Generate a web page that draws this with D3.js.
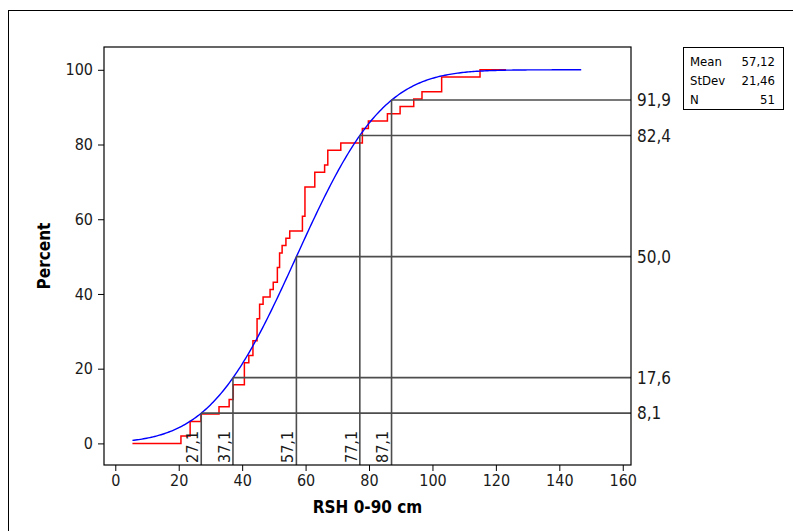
<!DOCTYPE html>
<html>
<head>
<meta charset="utf-8">
<script src="https://cdn.jsdelivr.net/npm/d3@7"></script>
<style>
  body { margin: 0; background: #fff; }
  svg { display: block; font-family: "DejaVu Sans Condensed", "DejaVu Sans", sans-serif; }
</style>
</head>
<body>
<div id="chart"></div>
<script>
var rshValues = [20.7, 23.6, 23.6, 27.0, 32.7, 35.9, 37.2, 37.2, 40.7, 40.7,
  40.7, 42.1, 43.4, 43.4, 44.7, 44.7, 44.7, 45.5, 45.5, 46.6,
  48.8, 49.8, 51.1, 51.1, 51.8, 51.8, 52.6, 53.8, 55.0, 59.0,
  59.0, 59.8, 59.8, 59.8, 59.8, 62.9, 62.9, 66.0, 67.0, 67.0,
  71.1, 77.9, 77.9, 79.8, 85.8, 89.8, 94.1, 96.7, 102.9, 102.9,
  115.0];
var xRange = [5.4, 123.2];      // red step drawn over this span
var fitRange = [5.4, 147.1];    // blue fitted curve drawn over this span
var fitMean = 57.12;
var fitSd = 21.46;
var statLabels = ["Mean", "StDev", "N"];
var statValues = ["57,12", "21,46", "51"];
var refX = [27.1, 37.1, 57.1, 77.1, 87.1];
var refY = [8.1, 17.6, 50.0, 82.4, 91.9];
var xTicks = [0, 20, 40, 60, 80, 100, 120, 140, 160];
var yTicks = [0, 20, 40, 60, 80, 100];

var width = 793, height = 531;
var pLeft = 104, pRight = 631, pTop = 47, pBottom = 465;

var svg = d3.select('#chart')
    .append('svg')
    .attr('width', width)
    .attr('height', height);

// outer frame
svg.append('rect')
    .attr('x', 8.5).attr('y', 10.5)
    .attr('width', 820).attr('height', 600)
    .attr('fill', 'none')
    .attr('stroke', '#000');

var x = d3.scaleLinear().domain([-3.56, 162.6]).range([pLeft, pRight]);
var y = d3.scaleLinear().domain([-5.78, 106.1]).range([pBottom, pTop]);

// normal cdf for the fitted line
function erf(z) {
  var t = 1 / (1 + 0.3275911 * Math.abs(z));
  var p = t * (0.254829592 + t * (-0.284496736 + t * (1.421413741 + t * (-1.453152027 + t * 1.061405429))));
  var r = 1 - p * Math.exp(-z * z);
  return z >= 0 ? r : -r;
}
function normCdf(v) {
  return 50 * (1 + erf((v - fitMean) / (fitSd * Math.SQRT2)));
}

// axes
var xAxis = svg.append('g')
    .attr('transform', `translate(0, ${pBottom})`)
    .call(d3.axisBottom(x).tickValues(xTicks).tickSize(6).tickPadding(4).tickSizeOuter(0));
var yAxis = svg.append('g')
    .attr('transform', `translate(${pLeft}, 0)`)
    .call(d3.axisLeft(y).tickValues(yTicks).tickSize(6).tickPadding(5).tickSizeOuter(0));

[xAxis, yAxis].forEach(function(a) {
  a.select('.domain').remove();
  a.selectAll('line').attr('stroke', '#000');
  a.selectAll('text')
    .attr('font-size', 16)
    .attr('fill', '#1a1a1a')
    .style('font-family', '"DejaVu Sans Condensed", "DejaVu Sans", sans-serif');
});

// empirical cdf steps
var steps = [[xRange[0], 0]];
var n = rshValues.length;
rshValues.forEach(function(v, i) {
  if (i < n - 1 && rshValues[i + 1] === v) return;
  var prev = steps[steps.length - 1][1];
  steps.push([v, prev]);
  steps.push([v, (i + 1) / n * 100]);
});
steps.push([xRange[1], 100]);

var line = d3.line().x(d => x(d[0])).y(d => y(d[1]));

svg.append('path')
    .datum(steps)
    .attr('d', line)
    .attr('fill', 'none')
    .attr('stroke', '#ff0000')
    .attr('stroke-width', 1.5);

var fitPts = d3.range(fitRange[0], fitRange[1] + 0.01, 0.5).map(v => [v, normCdf(v)]);
svg.append('path')
    .datum(fitPts)
    .attr('d', line)
    .attr('fill', 'none')
    .attr('stroke', '#0000ff')
    .attr('stroke-width', 1.4);

// percentile reference lines
var refs = refX.map((v, i) => ({x: v, p: refY[i]}));
var refG = svg.append('g');
refG.selectAll('line.v')
    .data(refs)
    .enter()
    .append('line')
    .attr('x1', d => x(d.x)).attr('x2', d => x(d.x))
    .attr('y1', pBottom).attr('y2', d => y(d.p))
    .attr('stroke', '#4d4d4d')
    .attr('stroke-width', 1.6);
refG.selectAll('line.h')
    .data(refs)
    .enter()
    .append('line')
    .attr('x1', d => x(d.x)).attr('x2', pRight)
    .attr('y1', d => y(d.p)).attr('y2', d => y(d.p))
    .attr('stroke', '#4d4d4d')
    .attr('stroke-width', 1.6);

refG.selectAll('text.xl')
    .data(refs)
    .enter()
    .append('text')
    .attr('transform', d => `translate(${x(d.x) - 3.3},${pBottom - 2})rotate(-90)`)
    .attr('font-size', 16)
    .attr('fill', '#1a1a1a')
    .text(d => d.x.toFixed(1).replace('.', ','));

refG.selectAll('text.yl')
    .data(refs)
    .enter()
    .append('text')
    .attr('x', 637)
    .attr('y', d => y(d.p))
    .attr('dy', '0.36em')
    .attr('font-size', 17)
    .attr('fill', '#1a1a1a')
    .text(d => d.p.toFixed(1).replace('.', ','));

// plot frame
svg.append('rect')
    .attr('x', pLeft).attr('y', pTop)
    .attr('width', pRight - pLeft).attr('height', pBottom - pTop)
    .attr('fill', 'none')
    .attr('stroke', '#000')
    .attr('stroke-width', 1.2);

// axis titles
svg.append('text')
    .attr('x', (pLeft + pRight) / 2)
    .attr('y', 513)
    .attr('text-anchor', 'middle')
    .attr('font-size', 17)
    .attr('font-weight', 'bold')
    .text('RSH 0-90 cm');

svg.append('text')
    .attr('transform', `translate(49.5,${(pTop + pBottom) / 2})rotate(-90)`)
    .attr('text-anchor', 'middle')
    .attr('font-size', 17)
    .attr('font-weight', 'bold')
    .text('Percent');

// stats box
var box = svg.append('g');
box.append('rect')
    .attr('x', 683.5).attr('y', 47.5)
    .attr('width', 100).attr('height', 62)
    .attr('fill', '#fff')
    .attr('stroke', '#000');
statLabels.forEach(function(s, i) {
  box.append('text')
      .attr('x', 690).attr('y', 66 + i * 19)
      .attr('font-size', 13)
      .text(s);
  box.append('text')
      .attr('x', 775).attr('y', 66 + i * 19)
      .attr('text-anchor', 'end')
      .attr('font-size', 13)
      .text(statValues[i]);
});
</script>
</body>
</html>
